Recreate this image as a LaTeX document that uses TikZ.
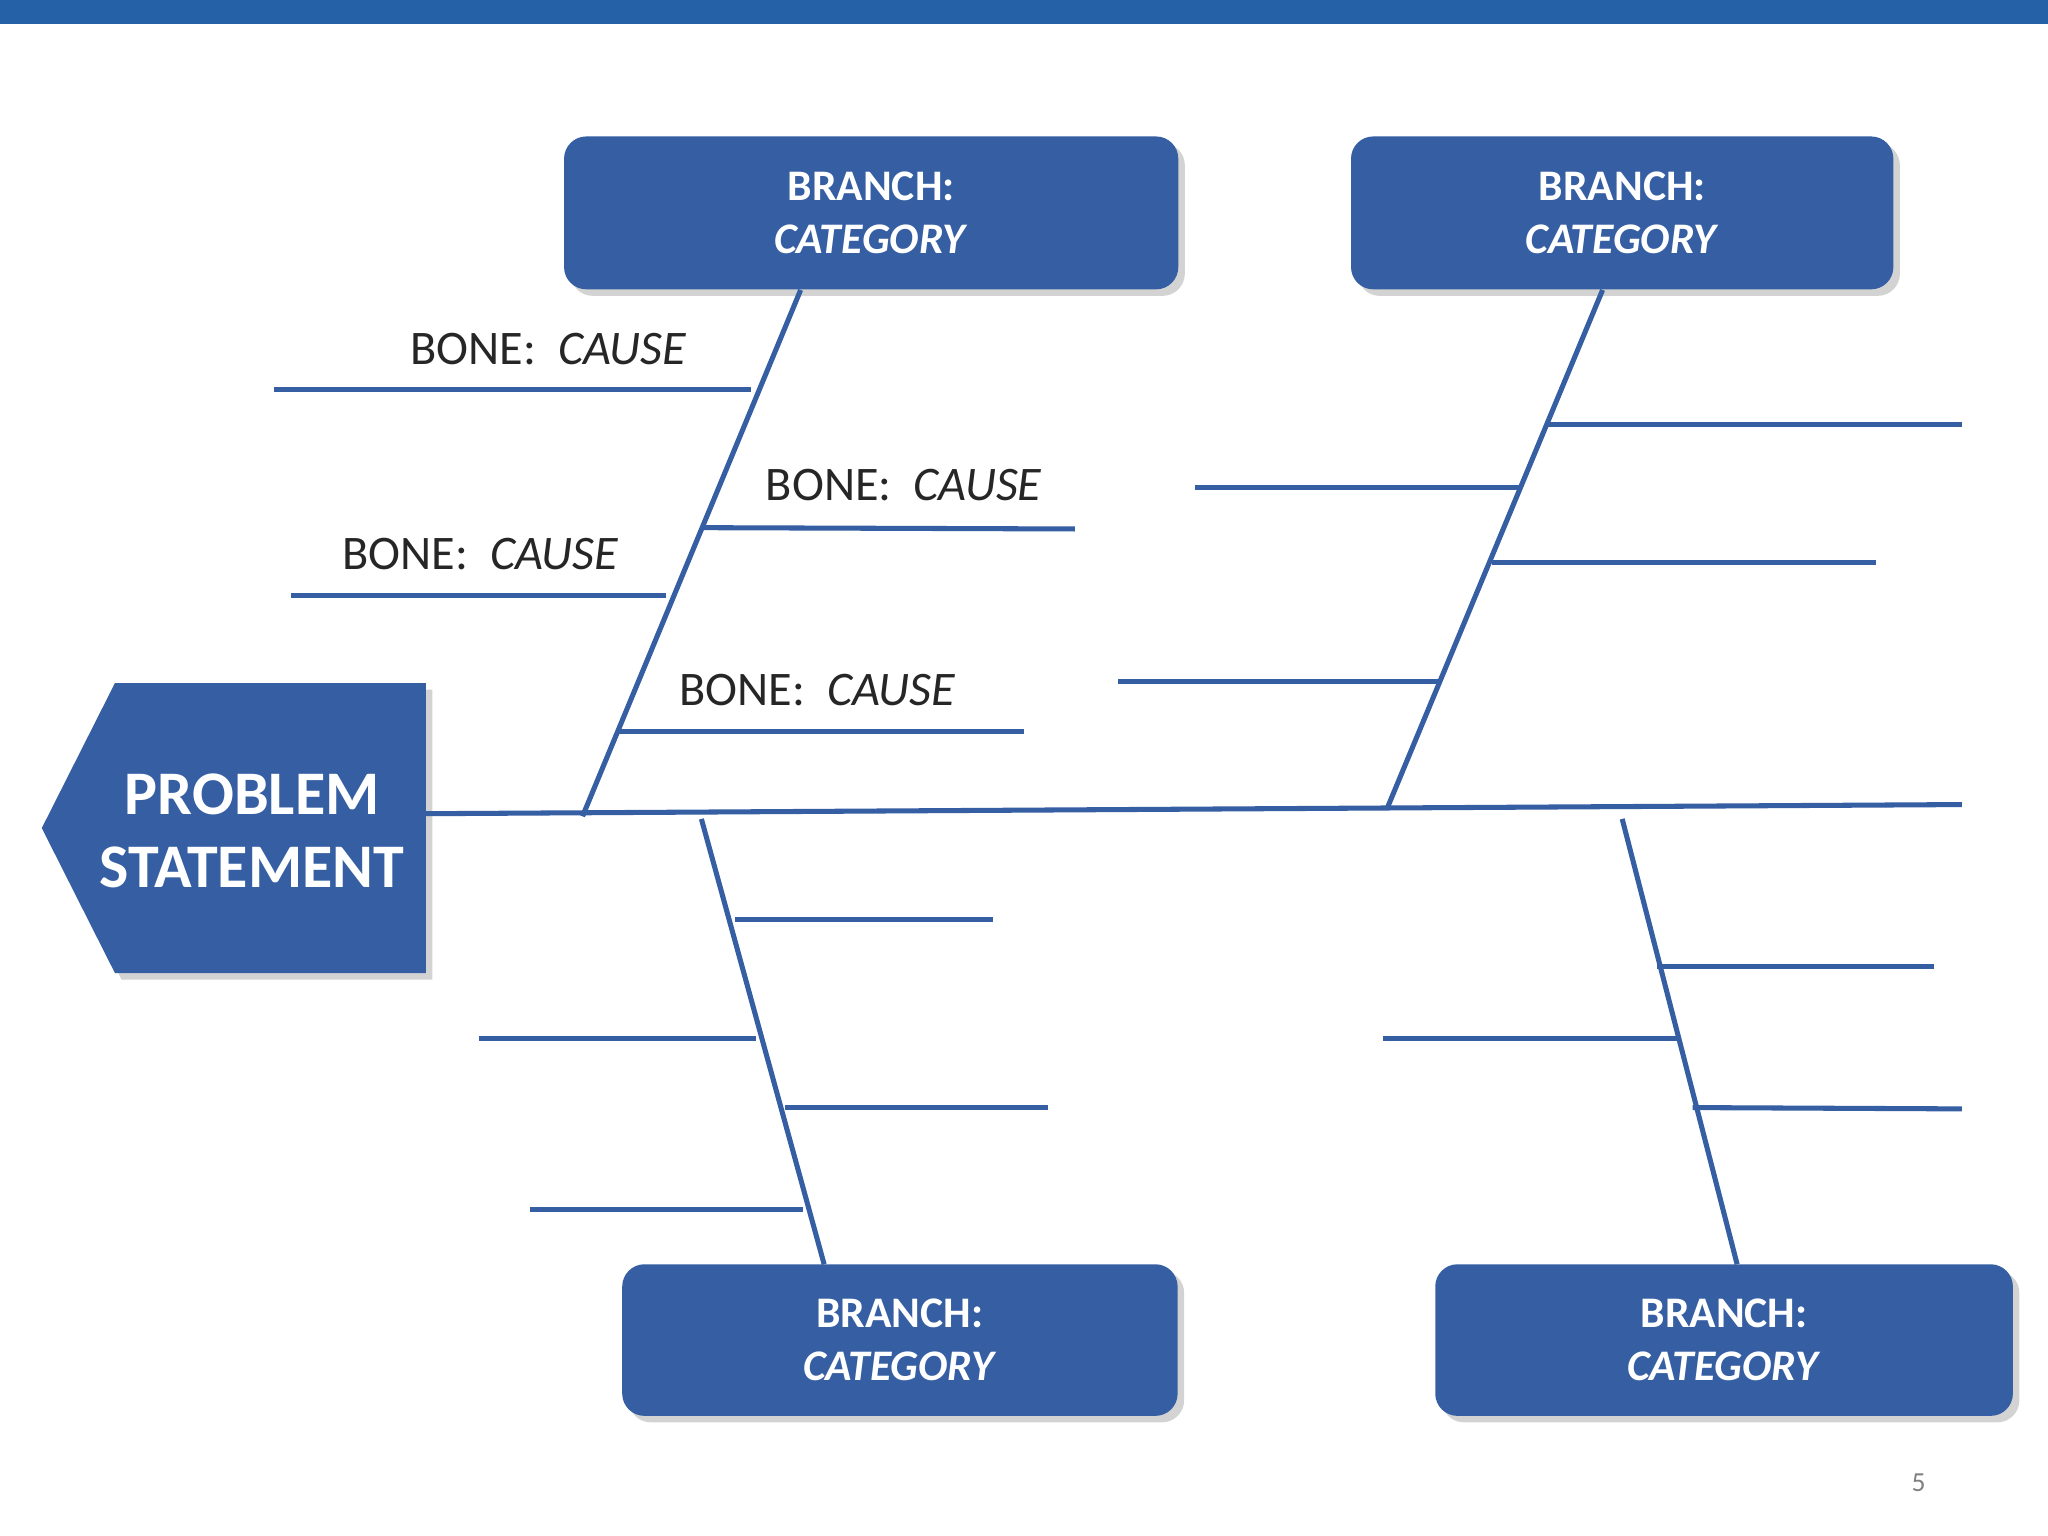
\documentclass[tikz,border=0pt]{standalone}
\usepackage{fontspec}
\setmainfont{Carlito}
\usetikzlibrary{shadows}
\definecolor{boxblue}{HTML}{355EA3}
\definecolor{barblue}{HTML}{2561A6}
\definecolor{bonetxt}{HTML}{262626}
\tikzset{
  px/.style={x=0.01cm,y=-0.01cm},
  branch/.style={draw=none, fill=boxblue, rounded corners=0.17cm, text=white,
    font=\bfseries\fontsize{9.5}{11.5}\selectfont, align=center, inner sep=0pt,
    drop shadow={shadow xshift=0.05cm,shadow yshift=-0.05cm,opacity=0.35}},
  bone/.style={draw=boxblue, line width=1.1pt},
  cause/.style={font=\fontsize{10.5}{12}\selectfont, text=bonetxt, inner sep=0pt}
}
\newcommand{\bonelabel}{BONE:\ \ \textit{CAUSE}}
\begin{document}
\begin{tikzpicture}[px]
\useasboundingbox (0,0) rectangle (1568,1176);
\fill[barblue] (0,0) rectangle (1568,18);
% branch boxes
\node[branch, minimum width=4.70cm, minimum height=1.17cm] (tl) at (667,163) {BRANCH:\\\textit{CATEGORY}};
\node[branch, minimum width=4.15cm, minimum height=1.17cm] (tr) at (1242,163) {BRANCH:\\\textit{CATEGORY}};
\node[branch, minimum width=4.25cm, minimum height=1.16cm] (bl) at (689,1026) {BRANCH:\\\textit{CATEGORY}};
\node[branch, minimum width=4.42cm, minimum height=1.16cm] (br) at (1320,1026) {BRANCH:\\\textit{CATEGORY}};
% problem statement
\fill[boxblue, drop shadow={shadow xshift=0.05cm,shadow yshift=-0.05cm,opacity=0.35}]
  (88,523) -- (326,523) -- (326,745) -- (88,745) -- (32,634) -- cycle;
\node[text=white, font=\bfseries\fontsize{13.5}{16}\selectfont, align=center] (ps) at (193,636) {PROBLEM\\STATEMENT};
\coordinate (spineA) at (326,623);
\coordinate (spineB) at (1502,616);
\draw[bone] (spineA) -- (spineB);
% main bones
\coordinate (tlA) at (613,222); \coordinate (tlB) at (446,625);
\coordinate (trA) at (1227,222); \coordinate (trB) at (1062,619);
\coordinate (blA) at (537,627); \coordinate (blB) at (631,968);
\coordinate (brA) at (1242,627); \coordinate (brB) at (1330,968);
\draw[bone] (tlA) -- (tlB);
\draw[bone] (trA) -- (trB);
\draw[bone] (blA) -- (blB);
\draw[bone] (brA) -- (brB);
% small bones
\foreach \a/\b in {210/298/575/298, 538/404/823/405, 223/456/510/456, 472/560/784/560,
  1185/325/1502/325, 915/373/1163/373, 1142/431/1436/431, 856/522/1101/522,
  563/704/760/704, 367/795/579/795, 601/848/802/848, 406/926/615/926,
  1269/740/1481/740, 1059/795/1287/795, 1296/848/1502/849}{}
\draw[bone] (210,298) -- (575,298);
\draw[bone] (538,404) -- (823,405);
\draw[bone] (223,456) -- (510,456);
\draw[bone] (472,560) -- (784,560);
\draw[bone] (1185,325) -- (1502,325);
\draw[bone] (915,373) -- (1163,373);
\draw[bone] (1142,431) -- (1436,431);
\draw[bone] (856,522) -- (1101,522);
\draw[bone] (563,704) -- (760,704);
\draw[bone] (367,795) -- (579,795);
\draw[bone] (601,848) -- (802,848);
\draw[bone] (406,926) -- (615,926);
\draw[bone] (1269,740) -- (1481,740);
\draw[bone] (1059,795) -- (1287,795);
\draw[bone] (1296,848) -- (1502,849);
% labels
\node[cause] (c1) at (420,267) {\bonelabel};
\node[cause] (c2) at (692,371) {\bonelabel};
\node[cause] (c3) at (368,424) {\bonelabel};
\node[cause] (c4) at (626,528) {\bonelabel};
\node[text=gray, font=\fontsize{6}{7}\selectfont] (pg) at (1469,1135) {5};
\end{tikzpicture}
\end{document}
